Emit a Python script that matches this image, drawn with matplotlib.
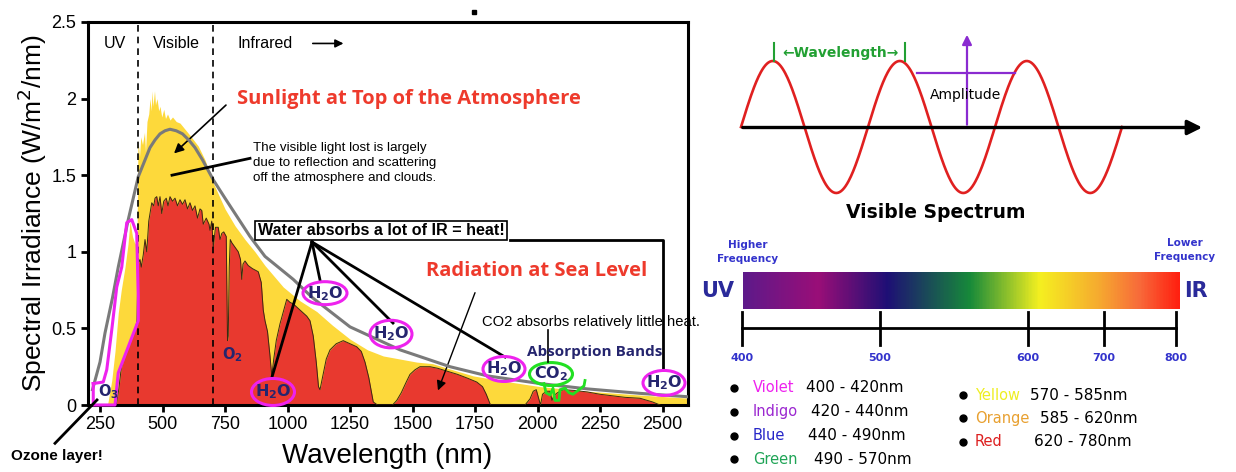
import numpy as np
import matplotlib.pyplot as plt
from matplotlib.patches import Ellipse
from matplotlib.colors import LinearSegmentedColormap

# ---- solar spectrum, values (nm, W/m^2/nm) ----
grey_nm = [220, 250, 270, 300, 323, 363, 403, 450, 470, 490, 510, 530, 555, 580, 605, 630, 660,
           703, 750, 790, 850, 910, 1023, 1100, 1250, 1450, 1650, 1800, 2010, 2200, 2410, 2600]
grey_val = [0.10, 0.28, 0.47, 0.70, 0.90, 1.21, 1.49, 1.68, 1.73, 1.77, 1.79, 1.80, 1.79, 1.77,
            1.73, 1.68, 1.60, 1.47, 1.35, 1.25, 1.10, 0.97, 0.82, 0.70, 0.51, 0.36, 0.25, 0.19,
            0.14, 0.105, 0.076, 0.054]

toa_nm = [280, 297, 310, 323, 335, 350, 362, 370, 380, 390, 398, 402, 408, 413, 420, 428, 432,
          438, 445, 450, 455, 458, 462, 468, 472, 478, 485, 490, 497, 505, 512, 520, 530, 540,
          555, 570, 590, 610, 643, 670, 703, 750, 790, 830, 870, 910, 983, 1050, 1117, 1180,
          1250, 1320, 1383, 1450, 1517, 1580, 1650, 1743, 1850, 2010, 2200, 2410, 2600]
toa_val = [0.0, 0.16, 0.35, 0.60, 0.75, 0.90, 1.05, 1.20, 1.10, 1.05, 1.10, 1.73, 1.62, 1.75,
           1.70, 1.78, 1.65, 1.85, 1.90, 2.00, 1.92, 2.05, 1.95, 2.05, 1.96, 2.00, 1.92, 1.95,
           1.88, 1.93, 1.87, 1.90, 1.86, 1.88, 1.85, 1.84, 1.80, 1.76, 1.69, 1.60, 1.45, 1.28,
           1.17, 1.08, 1.00, 0.91, 0.77, 0.68, 0.61, 0.52, 0.43, 0.36, 0.32, 0.30, 0.28, 0.27,
           0.235, 0.19, 0.16, 0.12, 0.09, 0.065, 0.045]

sea_nm = [315, 325, 335, 350, 363, 380, 392, 398, 402, 410, 415, 423, 430, 437, 445, 452, 457,
          465, 470, 477, 483, 490, 497, 505, 515, 522, 530, 540, 550, 560, 570, 580, 590, 600,
          610, 620, 630, 640, 650, 657, 663, 675, 686, 690, 697, 703, 712, 723, 730, 737, 745,
          755, 760, 763, 767, 771, 777, 790, 803, 812, 817, 822, 830, 843, 860, 883, 895, 903,
          910, 920, 930, 937, 945, 955, 970, 985, 997, 1010, 1023, 1050, 1077, 1090, 1103, 1115,
          1124, 1130, 1140, 1155, 1170, 1195, 1223, 1250, 1277, 1295, 1310, 1325, 1343, 1360,
          1420, 1437, 1455, 1475, 1490, 1510, 1530, 1550, 1570, 1600, 1640, 1680, 1720, 1757,
          1780, 1795, 1812, 1950, 1970, 1983, 1995, 2005, 2012, 2020, 2035, 2050, 2058, 2065,
          2080, 2103, 2150, 2200, 2250, 2300, 2350, 2410, 2440, 2460, 2475, 2490]
sea_val = [0.0, 0.10, 0.24, 0.32, 0.38, 0.45, 0.50, 0.55, 0.92, 0.95, 0.90, 0.98, 1.08, 1.00,
           1.20, 1.27, 1.32, 1.30, 1.35, 1.36, 1.30, 1.36, 1.25, 1.33, 1.35, 1.30, 1.36, 1.33,
           1.35, 1.30, 1.34, 1.31, 1.34, 1.28, 1.32, 1.27, 1.30, 1.22, 1.28, 1.27, 1.18, 1.22,
           1.18, 1.14, 1.20, 1.03, 1.16, 1.16, 1.08, 1.12, 1.13, 1.10, 0.42, 0.45, 0.90, 1.08,
           1.06, 1.03, 1.00, 0.95, 0.82, 0.92, 0.94, 0.91, 0.89, 0.87, 0.80, 0.62, 0.55, 0.48,
           0.32, 0.19, 0.30, 0.42, 0.53, 0.62, 0.69, 0.67, 0.66, 0.62, 0.58, 0.55, 0.45, 0.28,
           0.12, 0.10, 0.18, 0.30, 0.36, 0.40, 0.42, 0.40, 0.38, 0.35, 0.28, 0.18, 0.02, 0.0,
           0.0, 0.03, 0.08, 0.15, 0.20, 0.23, 0.25, 0.25, 0.25, 0.24, 0.22, 0.20, 0.175, 0.15,
           0.12, 0.07, 0.0, 0.0, 0.04, 0.09, 0.10, 0.04, 0.0, 0.07, 0.09, 0.09, 0.03, 0.06,
           0.08, 0.10, 0.095, 0.085, 0.07, 0.06, 0.05, 0.044, 0.03, 0.02, 0.01, 0.0]

x_ticks = [250, 500, 750, 1000, 1250, 1500, 1750, 2000, 2250, 2500]
y_ticks = [0, 0.5, 1, 1.5, 2, 2.5]
y_ticklabels = ['0', '0.5', '1', '1.5', '2', '2.5']

# ---- visible spectrum panel ----
spec_labels = ['400', '500', '600', '700', '800']
spec_tick_px = [742, 880, 1028, 1104, 1176]
colors_left = ['Violet', 'Indigo', 'Blue', 'Green']
ranges_left = ['400 - 420nm', '420 - 440nm', '440 - 490nm', '490 - 570nm']
colors_right = ['Yellow', 'Orange', 'Red']
ranges_right = ['570 - 585nm', '585 - 620nm', '620 - 780nm']
name_color = {'Violet': '#ee22ee', 'Indigo': '#9b27d0', 'Blue': '#2626c8', 'Green': '#1fa456',
              'Yellow': '#eeee22', 'Orange': '#e8a030', 'Red': '#dd2020'}

NAVY = '#25256e'
MAG = '#ee22ee'
SANS = 'Liberation Sans'

fig = plt.figure(figsize=(12.36, 4.72), dpi=100)
ax = fig.add_axes([87.5 / 1236, 1 - 405 / 472, 600 / 1236, 383 / 472])

ax.fill_between(toa_nm, toa_val, color='#fdd93b', lw=0, zorder=1)
ax.fill_between(sea_nm, sea_val, color='#e8392f', lw=0, zorder=2)
ax.plot(sea_nm, sea_val, color='#3b2a12', lw=0.7, zorder=3)
ax.plot(grey_nm, grey_val, color='#7a7a7a', lw=2.2, zorder=4)
for v in (400, 700):
    ax.axvline(v, color='k', ls=(0, (4, 3)), lw=1.2, zorder=5)

ax.set_xlim(200, 2600)
ax.set_ylim(0, 2.5)
ax.set_xticks(x_ticks)
ax.set_yticks(y_ticks)
ax.set_yticklabels(y_ticklabels)
ax.tick_params(direction='out', length=5, width=2, labelsize=13, pad=3)
for lab in ax.get_xticklabels() + ax.get_yticklabels():
    lab.set_family(SANS)
for s in ax.spines.values():
    s.set_linewidth(2.2)
ax.set_ylabel('Spectral Irradiance (W/m$^2$/nm)', fontsize=19, family=SANS, labelpad=2)
ax.set_xlabel('Wavelength (nm)', fontsize=20, family=SANS, labelpad=7)

# band labels
ax.text(310, 2.36, 'UV', ha='center', va='center', fontsize=11.5, family=SANS)
ax.text(554, 2.36, 'Visible', ha='center', va='center', fontsize=11.5, family=SANS)
ax.text(910, 2.36, 'Infrared', ha='center', va='center', fontsize=11.5, family=SANS)
ax.annotate('', xy=(1235, 2.36), xytext=(1090, 2.36),
            arrowprops=dict(arrowstyle='-|>', color='k', lw=1.2, mutation_scale=12))

# top of atmosphere note
ax.text(798, 2.0, 'Sunlight at Top of the Atmosphere', ha='left', va='center',
        fontsize=14.5, fontweight='bold', color='#ee3a2c', family='Open Sans')
ax.annotate('', xy=(538, 1.63), xytext=(762, 1.97),
            arrowprops=dict(arrowstyle='-|>', color='k', lw=1.2, mutation_scale=14))
ax.plot([850, 538], [1.61, 1.50], color='k', lw=2, zorder=6)
ax.text(862, 1.58, 'The visible light lost is largely\ndue to reflection and scattering\n'
        'off the atmosphere and clouds.', ha='left', va='center', fontsize=9.6,
        family=SANS, linespacing=1.3)

# water absorption lines
hub = (1098, 1.064)
for end in [(938, 0.183), (1130, 0.816), (1422, 0.535), (1870, 0.313)]:
    ax.plot([hub[0], end[0]], [hub[1], end[1]], color='k', lw=2, zorder=6)
ax.plot([1890, 2502, 2502], [1.077, 1.077, 0.228], color='k', lw=2, zorder=6, clip_on=False)
ax.text(1374, 1.139, 'Water absorbs a lot of IR = heat!', ha='center', va='center',
        fontsize=11.6, fontweight='bold', family=SANS, zorder=7,
        bbox=dict(boxstyle='square,pad=0.15', fc='white', ec='k', lw=1.2))

# absorption band ovals
h2o = r'H$_\mathbf{2}$O'
for cx, cy, w, h in [(942, 0.085, 172, 0.176), (1150, 0.73, 176, 0.15),
                     (1414, 0.463, 168, 0.18), (1866, 0.235, 168, 0.163),
                     (2506, 0.144, 168, 0.163)]:
    ax.add_patch(Ellipse((cx, cy), w, h, fill=False, ec=MAG, lw=2.2, zorder=8, clip_on=False))
    ax.text(cx, cy, h2o, ha='center', va='center', fontsize=11.5, fontweight='bold',
            color=NAVY, zorder=9)
ax.add_patch(Ellipse((2054, 0.202), 172, 0.15, fill=False, ec='#22e022', lw=2.2, zorder=8))
ax.text(2054, 0.202, r'CO$_\mathbf{2}$', ha='center', va='center', fontsize=11.5,
        fontweight='bold', color=NAVY, zorder=9)
ax.plot([2026, 2034, 2050, 2062, 2070, 2086, 2090, 2110, 2126, 2142, 2166, 2186, 2190],
        [0.14, 0.08, 0.065, 0.11, 0.03, 0.03, 0.10, 0.11, 0.08, 0.07, 0.10, 0.125, 0.16],
        color='#22e022', lw=2, zorder=8)
ax.text(778, 0.33, r'O$_\mathbf{2}$', ha='center', va='center', fontsize=10.5,
        fontweight='bold', color=NAVY, zorder=9)

# ozone outline
oz_x = [223, 223, 310, 323, 363, 403, 403, 397, 377, 357, 337, 317, 297, 277, 263, 223]
oz_y = [0.14, 0.0, 0.0, 0.21, 0.38, 0.55, 0.71, 1.12, 1.21, 1.19, 0.90, 0.77, 0.49, 0.23,
        0.15, 0.14]
ax.plot(oz_x, oz_y, color=MAG, lw=2.2, zorder=8, clip_on=False)
ax.text(282, 0.085, r'O$_\mathbf{3}$', ha='center', va='center', fontsize=10.5,
        fontweight='bold', color=NAVY, zorder=9)
ax.plot([70, 238], [-0.25, 0.033], color='k', lw=2, clip_on=False, zorder=9)
ax.text(78, -0.33, 'Ozone layer!', ha='center', va='center', fontsize=11,
        fontweight='bold', family=SANS, clip_on=False)

# sea level note
ax.text(1998, 0.875, 'Radiation at Sea Level', ha='center', va='center', fontsize=14.5,
        fontweight='bold', color='#ee3a2c', family='Open Sans')
ax.annotate('', xy=(1598, 0.078), xytext=(1754, 0.75),
            arrowprops=dict(arrowstyle='-|>', color='k', lw=1, mutation_scale=14))
ax.text(1778, 0.54, 'CO2 absorbs relatively little heat.', ha='left', va='center',
        fontsize=10.6, family=SANS, zorder=9)
ax.plot([2042, 2042], [0.49, 0.28], color='k', lw=1.2, zorder=9)
ax.text(2230, 0.346, 'Absorption Bands', ha='center', va='center', fontsize=11,
        fontweight='bold', color=NAVY, family='Open Sans', zorder=9)

# ---- right side, drawn in pixel space ----
ov = fig.add_axes([0, 0, 1, 1], zorder=5)
ov.set_xlim(0, 1236)
ov.set_ylim(472, 0)
ov.axis('off')
ov.patch.set_alpha(0)

ov.plot([474], [12], marker='s', ms=3, color='k')

# wave sketch
wx = np.linspace(741, 1122, 500)
ov.plot(wx, 127 - 66 * np.sin(2 * np.pi * (wx - 741) / 127), color='#e02020', lw=1.9)
ov.annotate('', xy=(1205, 127.5), xytext=(740, 127.5),
            arrowprops=dict(arrowstyle='-|>', color='k', lw=2.4, mutation_scale=22))
ov.annotate('', xy=(967, 32), xytext=(967, 127.5),
            arrowprops=dict(arrowstyle='-|>', color='#8a2bd0', lw=1.6, mutation_scale=14))
ov.plot([917, 1015], [73, 73], color='#8a2bd0', lw=1.6)
ov.text(966, 95, 'Amplitude', ha='center', va='center', fontsize=10)
ov.plot([774, 774], [43, 61], color='#22a033', lw=1.5)
ov.plot([905, 905], [43, 61], color='#22a033', lw=1.5)
ov.text(840, 53, '←Wavelength→', ha='center', va='center', fontsize=10, color='#22a033',
        fontweight='bold')
ov.text(936, 212, 'Visible Spectrum', ha='center', va='center', fontsize=13.5,
        fontweight='bold')

# colour bar
stops = [(0.0, '#5e1a8a'), (0.17, '#9a0e78'), (0.33, '#1e1075'), (0.52, '#178a3a'),
         (0.68, '#f5f020'), (0.82, '#f6a830'), (0.91, '#f86a3a'), (1.0, '#ff2010')]
cmap = LinearSegmentedColormap.from_list('spec', stops)
ov.imshow(np.linspace(0, 1, 400)[None, :], cmap=cmap, aspect='auto',
          extent=(743, 1180, 309, 272), zorder=2)
ov.set_xlim(0, 1236)
ov.set_ylim(472, 0)

BLUE = '#3333cc'
ov.text(718, 291, 'UV', ha='center', va='center', fontsize=15, fontweight='bold', color='#2a2a9a')
ov.text(1196, 291, 'IR', ha='center', va='center', fontsize=15, fontweight='bold', color='#2a2a9a')
ov.text(748, 252, 'Higher\nFrequency', ha='center', va='center', fontsize=7.5,
        fontweight='bold', color=BLUE, linespacing=1.5)
ov.text(1185, 250, 'Lower\nFrequency', ha='center', va='center', fontsize=7.5,
        fontweight='bold', color=BLUE, linespacing=1.5)

ov.plot([spec_tick_px[0], spec_tick_px[-1]], [328, 328], color='k', lw=2)
for px, lab in zip(spec_tick_px, spec_labels):
    ov.plot([px, px], [312, 345], color='k', lw=2)
    ov.text(px, 358, lab, ha='center', va='center', fontsize=8, fontweight='bold', color=BLUE)

range_x_left = [806, 811, 808, 814]
range_x_right = [1030, 1040, 1034]
for i, (nm, rg) in enumerate(zip(colors_left, ranges_left)):
    y = 388 + i * 23.8
    ov.plot([734], [y], marker='o', ms=5, color='k')
    ov.text(753, y, nm, ha='left', va='center', fontsize=10.5, color=name_color[nm])
    ov.text(range_x_left[i], y, rg, ha='left', va='center', fontsize=11)
for i, (nm, rg) in enumerate(zip(colors_right, ranges_right)):
    y = 395 + i * 23.3
    ov.plot([963], [y], marker='o', ms=5, color='k')
    ov.text(975, y, nm, ha='left', va='center', fontsize=10.5, color=name_color[nm])
    ov.text(range_x_right[i], y, rg, ha='left', va='center', fontsize=11)

fig.savefig('out.png', dpi=100)
